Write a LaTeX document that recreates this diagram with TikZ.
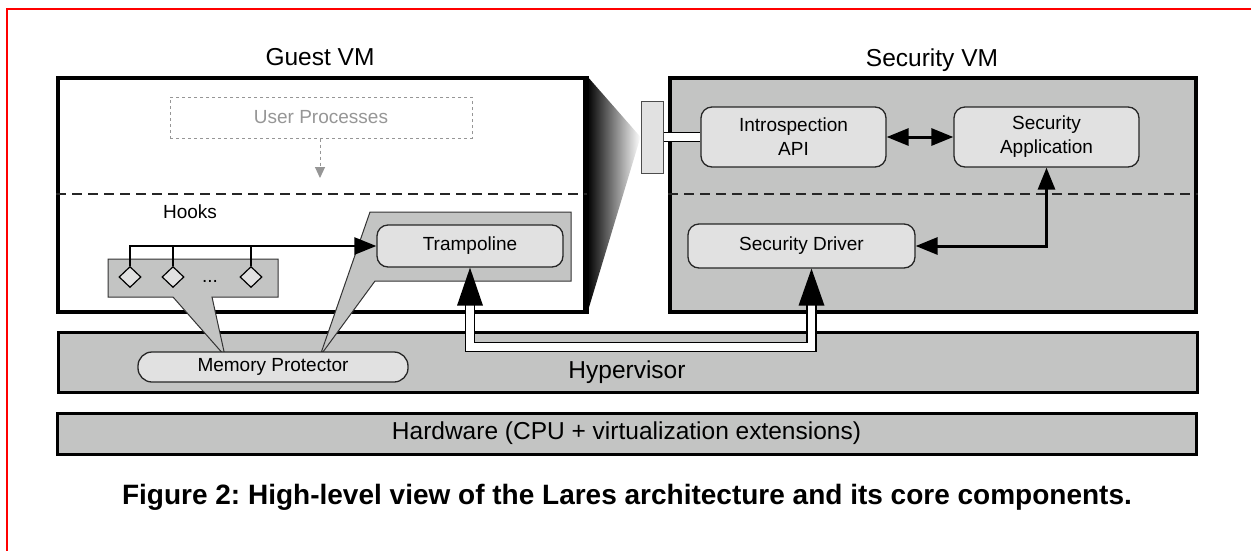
\documentclass[tikz,border=0pt]{standalone}
\usepackage{fontspec}
\setmainfont{Liberation Sans}
\usetikzlibrary{shapes.geometric,arrows.meta,calc}
\definecolor{boxgray}{RGB}{195,196,195}
\definecolor{nodegray}{RGB}{225,225,225}
\definecolor{ghost}{RGB}{150,150,150}
\tikzset{bigtip/.tip={Triangle[length=22pt,width=17pt]}}
\frenchspacing
\begin{document}
\begin{tikzpicture}[x=1pt,y=-1pt,
  vmbox/.style={draw=black, line width=4pt, inner sep=0pt},
  layer/.style={draw=black, line width=3pt, fill=boxgray, inner sep=0pt},
  comp/.style={draw=black!85, line width=1.3pt, fill=nodegray, rounded corners=11pt,
    font=\fontsize{19}{24}\selectfont, align=center, inner sep=0pt},
  callout/.style={draw=black!80, line width=1pt, fill=boxgray},
  title/.style={font=\fontsize{24.5}{28}\selectfont, anchor=base},
  sep/.style={black!85, line width=1.2pt, dash pattern=on 10pt off 6pt},
  hookd/.style={diamond, draw=black, line width=1.2pt, fill=nodegray, inner sep=0pt,
    minimum width=22pt, minimum height=21pt},
  hookline/.style={black, line width=2.6pt, line join=miter},
  pipe/.style={draw=black, line width=1.6pt, double=white, double distance=7.5pt, line join=miter},
  plain/.style={font=\fontsize{19}{24}\selectfont}]
\useasboundingbox (0,0) rectangle (1251,550);
% red frame
\draw[red, line width=2pt] (7,551) -- (7,9) -- (1252,9);

% VM boxes
\node[vmbox, fill=white, minimum width=527pt, minimum height=234pt] (guest) at (321.5,195) {};
\node[vmbox, fill=boxgray, minimum width=526pt, minimum height=234pt] (secvm) at (933,195) {};
\node[title] (guestlbl) at (320,65) {Guest VM};
\node[title] (seclbl) at (932,66) {Security VM};

% plug and funnel
\node[draw=black!70, line width=1pt, fill=nodegray, minimum width=22pt, minimum height=72pt, inner sep=0pt] (plug) at (652,137) {};
\shade[left color=black, right color=white] (guest.north east) -- (plug.west) -- (guest.south east) -- cycle;
\draw[black, line width=4pt] (guest.north east) -- (guest.south east);

% separators
\coordinate (sepy) at (0,194);
\draw[sep] (guest.west |- sepy) -- (guest.east |- sepy);
\draw[sep] (secvm.west |- sepy) -- (secvm.east |- sepy);

% user processes
\node[draw=ghost, line width=1pt, dash pattern=on 3pt off 3pt, minimum width=302pt, minimum height=41pt,
  inner sep=0pt, text=ghost, font=\fontsize{19}{24}\selectfont] (user) at (321,117.5) {User Processes};
\coordinate (userend) at (320,178);
\draw[ghost, line width=1pt, dash pattern=on 3pt off 3pt, -{Triangle[length=11pt,width=10pt]}] (user.south -| userend) -- (userend);

% layers
\node[layer, minimum width=1139pt, minimum height=60pt] (hyper) at (627.5,362) {};
\node[layer, minimum width=1139pt, minimum height=41pt] (hw) at (626.5,433.5) {};
\node[font=\fontsize{24.5}{28}\selectfont] (hyperlbl) at (627,372) {Hypervisor};
\node[font=\fontsize{24.5}{28}\selectfont] (hwlbl) at (hw) {Hardware (CPU + virtualization extensions)};

% callouts
\path[callout] (108,259) -- (278,259) -- (278,297) -- (212,297) -- (225,356) -- (173,297) -- (108,297) -- cycle;
\path[callout] (370,212) -- (571,212) -- (571,281) -- (375,281) -- (320,356) -- cycle;
\node[plain] (hookslbl) at (190,212) {Hooks};

% components
\node[comp, minimum width=186pt, minimum height=42pt] (tramp) at (470,246) {Trampoline};
\node[comp, rounded corners=14pt, minimum width=270pt, minimum height=30pt] (memprot) at (273,367) {Memory Protector};
\node[comp, minimum width=185pt, minimum height=60pt] (intro) at (793.5,137) {Introspection\\API};
\node[comp, minimum width=185pt, minimum height=60pt] (secapp) at (1046.5,137) {Security\\Application};
\node[comp, minimum width=227pt, minimum height=44pt] (drv) at (801.5,246) {Security Driver};

% hooks
\node[hookd] (d1) at (130,277) {};
\node[hookd] (d2) at (173,277) {};
\node[hookd] (d3) at (251,277) {};
\node[plain, anchor=base] (dots) at (210,282) {...};
\draw[hookline, -bigtip] (d1.north) -- (d1.north |- tramp.west) -- (tramp.west);
\draw[hookline] (d2.north) -- (d2.north |- tramp.west);
\draw[hookline] (d3.north) -- (d3.north |- tramp.west);

% security VM connections
\draw[pipe] (plug.east) -- (intro.west);
\draw[black, line width=3pt, bigtip-bigtip] (intro.east) -- (secapp.west);
\draw[black, line width=3pt, line join=miter, bigtip-bigtip] (secapp.south) |- (drv.east);

% hypervisor pipe
\coordinate (tb) at ($(tramp.south)+(0,37)$);
\coordinate (db) at ($(drv.south)+(10,36)$);
\coordinate (pb) at (0,347);
\draw[pipe] (tb) -- (tb |- pb) -- (db |- pb) -- (db);
\fill[black] (tramp.south) -- ($(tb)+(-13,1)$) -- ($(tb)+(13,1)$) -- cycle;
\fill[black] ($(drv.south)+(10,0)$) -- ($(db)+(-13,1)$) -- ($(db)+(13,1)$) -- cycle;

% caption
\node[font=\bfseries\fontsize{28}{32}\selectfont] (caption) at (627,497) {Figure 2: High-level view of the Lares architecture and its core components.};
\end{tikzpicture}
\end{document}
